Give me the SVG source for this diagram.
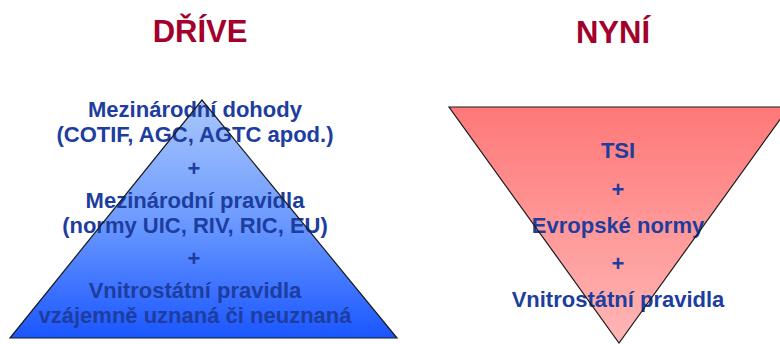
<svg xmlns="http://www.w3.org/2000/svg" width="780" height="344" viewBox="0 0 780 344">
  <defs>
    <linearGradient id="gBlue" x1="0" y1="0" x2="0" y2="1">
      <stop offset="0" stop-color="#aac7fb"/>
      <stop offset="0.5" stop-color="#6d9bff"/>
      <stop offset="1" stop-color="#1a56ff"/>
    </linearGradient>
    <linearGradient id="gRed" x1="0" y1="0" x2="0" y2="1">
      <stop offset="0" stop-color="#ff7878"/>
      <stop offset="1" stop-color="#ffb6b6"/>
    </linearGradient>
    <style>
      .title { font-family: "Liberation Sans", Arial, sans-serif; font-weight: bold; font-size: 31px; fill: #a3002c; text-anchor: middle; }
      .lbl { font-family: "Liberation Sans", Arial, sans-serif; font-weight: bold; font-size: 22px; fill: #1d3d9f; text-anchor: middle; }
      .edge { fill: none; stroke: #1a1a1a; stroke-width: 1.2; stroke-linejoin: miter; }
    </style>
  </defs>
  <rect width="780" height="344" fill="#ffffff"/>

  <g id="drive">
    <text class="title" x="200" y="42">DŘÍVE</text>
    <polygon points="202,100 10,338 397,338" fill="url(#gBlue)"/>
    <text class="lbl" x="195" y="117">Mezinárodní dohody</text>
    <text class="lbl" x="195" y="142">(COTIF, AGC, AGTC apod.)</text>
    <text class="lbl" x="194" y="176">+</text>
    <text class="lbl" x="195" y="208">Mezinárodní pravidla</text>
    <text class="lbl" x="195" y="233">(normy UIC, RIV, RIC, EU)</text>
    <text class="lbl" x="194" y="266">+</text>
    <text class="lbl" x="195" y="298">Vnitrostátní pravidla</text>
    <text class="lbl" x="195" y="323">vzájemně uznaná či neuznaná</text>
    <polygon class="edge" points="202,100 10,338 397,338"/>
  </g>

  <g id="nyni">
    <text class="title" x="613" y="43">NYNÍ</text>
    <polygon points="449,107 789,107 619,343" fill="url(#gRed)"/>
    <text class="lbl" x="618" y="158">TSI</text>
    <text class="lbl" x="618" y="197">+</text>
    <text class="lbl" x="618" y="233">Evropské normy</text>
    <text class="lbl" x="618" y="271">+</text>
    <text class="lbl" x="618" y="307">Vnitrostátní pravidla</text>
    <polygon class="edge" points="449,107 789,107 619,343"/>
  </g>

  <g id="connectors"/>
</svg>
